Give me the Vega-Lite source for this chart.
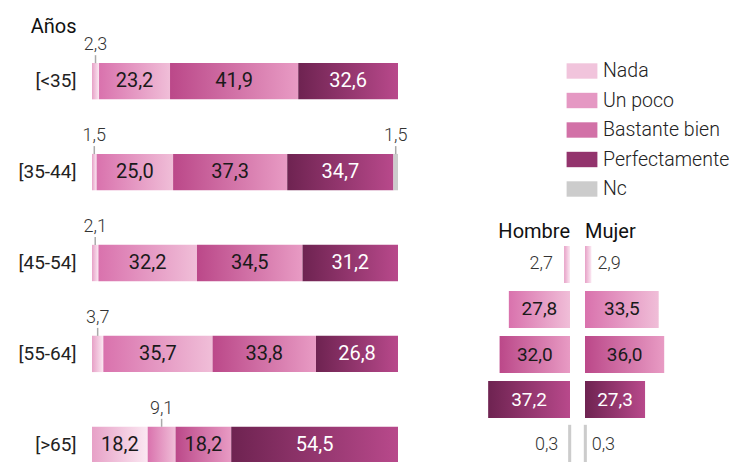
{
  "$schema": "https://vega.github.io/schema/vega-lite/v6.json",
  "padding": {"left": 17, "top": 16, "right": 0, "bottom": 0},
  "config": {
    "locale": {"number": {"decimal": ",", "thousands": ".", "grouping": [3], "currency": ["", " €"]}},
    "view": {"stroke": null},
    "font": "Roboto"
  },
  "datasets": {
    "edad": [
      {"age": "[<35]", "cat": "Nada", "o": 1, "v": 2.3},
      {"age": "[<35]", "cat": "Un poco", "o": 2, "v": 23.2},
      {"age": "[<35]", "cat": "Bastante bien", "o": 3, "v": 41.9},
      {"age": "[<35]", "cat": "Perfectamente", "o": 4, "v": 32.6},
      {"age": "[35-44]", "cat": "Nada", "o": 1, "v": 1.5},
      {"age": "[35-44]", "cat": "Un poco", "o": 2, "v": 25.0},
      {"age": "[35-44]", "cat": "Bastante bien", "o": 3, "v": 37.3},
      {"age": "[35-44]", "cat": "Perfectamente", "o": 4, "v": 34.7},
      {"age": "[35-44]", "cat": "Nc", "o": 5, "v": 1.5},
      {"age": "[45-54]", "cat": "Nada", "o": 1, "v": 2.1},
      {"age": "[45-54]", "cat": "Un poco", "o": 2, "v": 32.2},
      {"age": "[45-54]", "cat": "Bastante bien", "o": 3, "v": 34.5},
      {"age": "[45-54]", "cat": "Perfectamente", "o": 4, "v": 31.2},
      {"age": "[55-64]", "cat": "Nada", "o": 1, "v": 3.7},
      {"age": "[55-64]", "cat": "Un poco", "o": 2, "v": 35.7},
      {"age": "[55-64]", "cat": "Bastante bien", "o": 3, "v": 33.8},
      {"age": "[55-64]", "cat": "Perfectamente", "o": 4, "v": 26.8},
      {"age": "[>65]", "cat": "Nada", "o": 1, "v": 18.2},
      {"age": "[>65]", "cat": "Un poco", "o": 2, "v": 9.1},
      {"age": "[>65]", "cat": "Bastante bien", "o": 3, "v": 18.2},
      {"age": "[>65]", "cat": "Perfectamente", "o": 4, "v": 54.5}
    ],
    "sexo": [
      {"sex": "Hombre", "cat": "Nada", "v": 2.7},
      {"sex": "Hombre", "cat": "Un poco", "v": 27.8},
      {"sex": "Hombre", "cat": "Bastante bien", "v": 32.0},
      {"sex": "Hombre", "cat": "Perfectamente", "v": 37.2},
      {"sex": "Hombre", "cat": "Nc", "v": 0.3},
      {"sex": "Mujer", "cat": "Nada", "v": 2.9},
      {"sex": "Mujer", "cat": "Un poco", "v": 33.5},
      {"sex": "Mujer", "cat": "Bastante bien", "v": 36.0},
      {"sex": "Mujer", "cat": "Perfectamente", "v": 27.3},
      {"sex": "Mujer", "cat": "Nc", "v": 0.3}
    ]
  },
  "spacing": 69,
  "hconcat": [
    {
      "data": {"name": "edad"},
      "width": 306,
      "height": 400,
      "encoding": {
        "y": {
          "field": "age", "type": "nominal",
          "sort": ["[<35]", "[35-44]", "[45-54]", "[55-64]", "[>65]"],
          "scale": {"paddingInner": 0.6, "paddingOuter": 0},
          "title": "Años",
          "axis": {
            "domain": false, "ticks": false, "labelPadding": 16,
            "labelFontSize": 19, "labelColor": "#222", "labelFont": "Roboto",
            "titleAngle": 0, "titleAlign": "right", "titleBaseline": "alphabetic",
            "titleX": -16, "titleY": -31, "titleFontSize": 20, "titleFontWeight": 400, "titleColor": "#111", "titleFont": "Roboto"
          }
        }
      },
      "layer": [
        {
          "mark": {"type": "bar", "opacity": 0},
          "encoding": {
            "x": {"field": "v", "type": "quantitative", "stack": "zero", "scale": {"domain": [0, 100], "nice": false}, "axis": null},
            "order": {"field": "o"},
            "color": {
              "field": "cat", "type": "nominal",
              "scale": {
                "domain": ["Nada", "Un poco", "Bastante bien", "Perfectamente", "Nc"],
                "range": ["#f1c4dc", "#e598c3", "#d271a7", "#93346d", "#cccccc"]
              },
              "legend": {
                "orient": "none", "legendX": 476, "legendY": -6, "title": null,
                "symbolType": "M-1.1,-0.55H1.1V0.55H-1.1Z", "symbolSize": 784, "symbolStrokeWidth": 0, "symbolOpacity": 1,
                "labelFontSize": 19.5, "labelFont": "Roboto", "labelFontWeight": 300, "labelColor": "#222", "labelOffset": 7, "rowPadding": 5.5
              }
            }
          }
        },
        {
          "mark": {"type": "bar", "fill": {"expr": "datum.cat === 'Nada' ? {gradient: 'linear', x1: 0, y1: 0, x2: 1, y2: 0, stops: [{offset: 0, color: '#e7a1c7'}, {offset: 1, color: '#fbe8f2'}]} : datum.cat === 'Un poco' ? {gradient: 'linear', x1: 0, y1: 0, x2: 1, y2: 0, stops: [{offset: 0, color: '#d972ad'}, {offset: 1, color: '#f0bed8'}]} : datum.cat === 'Bastante bien' ? {gradient: 'linear', x1: 0, y1: 0, x2: 1, y2: 0, stops: [{offset: 0, color: '#bb4889'}, {offset: 1, color: '#e89bc4'}]} : datum.cat === 'Perfectamente' ? {gradient: 'linear', x1: 0, y1: 0, x2: 1, y2: 0, stops: [{offset: 0, color: '#6e2351'}, {offset: 1, color: '#b8498b'}]} : '#cccccc'"}},
          "encoding": {
            "x": {"field": "v", "type": "quantitative", "stack": "zero"},
            "detail": {"field": "cat"},
            "order": {"field": "o"}
          }
        },
        {
          "mark": {"type": "text", "fontSize": 20, "baseline": "middle"},
          "encoding": {
            "x": {"field": "v", "type": "quantitative", "stack": "zero", "bandPosition": 0.5},
            "detail": {"field": "cat"},
            "order": {"field": "o"},
            "text": {"condition": {"test": "datum.v < 10", "value": ""}, "field": "v", "type": "quantitative", "format": ".1f"},
            "color": {"condition": {"test": "datum.cat === 'Perfectamente'", "value": "#ffffff"}, "value": "#1a1a1a"}
          }
        },
        {
          "mark": {"type": "text", "fontSize": 18, "fontWeight": 300, "baseline": "alphabetic", "dy": -31, "color": "#333"},
          "encoding": {
            "x": {"field": "v", "type": "quantitative", "stack": "zero", "bandPosition": 0.5},
            "detail": {"field": "cat"},
            "order": {"field": "o"},
            "text": {"condition": {"test": "datum.v >= 10", "value": ""}, "field": "v", "type": "quantitative", "format": ".1f"}
          }
        },
        {
          "mark": {"type": "tick", "size": 8, "thickness": 1.5, "color": "#aaaaaa", "yOffset": -22},
          "encoding": {
            "x": {"field": "v", "type": "quantitative", "stack": "zero", "bandPosition": 0.5},
            "detail": {"field": "cat"},
            "order": {"field": "o"},
            "opacity": {"condition": {"test": "datum.v < 10", "value": 1}, "value": 0}
          }
        }
      ]
    },
    {
      "spacing": 11,
      "hconcat": [
        {
          "data": {"name": "sexo"},
          "transform": [{"filter": "datum.sex === 'Hombre'"}],
          "width": 88,
          "height": 400,
          "encoding": {
            "y": {
              "field": "cat", "type": "nominal",
              "sort": ["Nada", "Un poco", "Bastante bien", "Perfectamente", "Nc"],
              "scale": {"paddingInner": 0.178, "paddingOuter": 0, "range": [183, 400]},
              "axis": null
            }
          },
          "layer": [
            {
              "mark": {"type": "bar", "fill": {"expr": "datum.cat === 'Nada' ? {gradient: 'linear', x1: 0, y1: 0, x2: 1, y2: 0, stops: [{offset: 0, color: '#e7a1c7'}, {offset: 1, color: '#fbe8f2'}]} : datum.cat === 'Un poco' ? {gradient: 'linear', x1: 0, y1: 0, x2: 1, y2: 0, stops: [{offset: 0, color: '#d972ad'}, {offset: 1, color: '#f0bed8'}]} : datum.cat === 'Bastante bien' ? {gradient: 'linear', x1: 0, y1: 0, x2: 1, y2: 0, stops: [{offset: 0, color: '#bb4889'}, {offset: 1, color: '#e89bc4'}]} : datum.cat === 'Perfectamente' ? {gradient: 'linear', x1: 0, y1: 0, x2: 1, y2: 0, stops: [{offset: 0, color: '#6e2351'}, {offset: 1, color: '#b8498b'}]} : '#cccccc'"}},
              "encoding": {
                "x": {"field": "v", "type": "quantitative", "scale": {"domain": [0, 40], "nice": false, "reverse": true}, "axis": null}
              }
            },
            {
              "transform": [{"filter": "datum.cat === 'Nc'"}],
              "mark": {"type": "bar", "fill": "#cccccc", "stroke": "#cccccc", "strokeWidth": 2.4},
              "encoding": {
                "x": {"field": "v", "type": "quantitative"}
              }
            },
            {
              "mark": {"type": "text", "fontSize": 19, "baseline": "middle"},
              "encoding": {
                "x": {"field": "v", "type": "quantitative", "stack": "zero", "bandPosition": 0.5},
                "text": {"condition": {"test": "datum.v < 10", "value": ""}, "field": "v", "type": "quantitative", "format": ".1f"},
                "color": {"condition": {"test": "datum.cat === 'Perfectamente'", "value": "#ffffff"}, "value": "#1a1a1a"}
              }
            },
            {
              "mark": {"type": "text", "fontSize": 18, "fontWeight": 300, "baseline": "middle", "align": "right", "dx": -11, "color": "#333"},
              "encoding": {
                "x": {"field": "v", "type": "quantitative"},
                "text": {"condition": {"test": "datum.v >= 10", "value": ""}, "field": "v", "type": "quantitative", "format": ".1f"}
              }
            },
            {
              "transform": [{"filter": "datum.cat === 'Nada'"}],
              "mark": {"type": "text", "fontSize": 20, "fontWeight": 400, "baseline": "alphabetic", "align": "right", "dy": -26, "color": "#111"},
              "encoding": {
                "x": {"datum": 0},
                "text": {"field": "sex"}
              }
            }
          ]
        },
        {
          "data": {"name": "sexo"},
          "transform": [{"filter": "datum.sex === 'Mujer'"}],
          "width": 88,
          "height": 400,
          "encoding": {
            "y": {
              "field": "cat", "type": "nominal",
              "sort": ["Nada", "Un poco", "Bastante bien", "Perfectamente", "Nc"],
              "scale": {"paddingInner": 0.178, "paddingOuter": 0, "range": [183, 400]},
              "axis": null
            }
          },
          "layer": [
            {
              "mark": {"type": "bar", "fill": {"expr": "datum.cat === 'Nada' ? {gradient: 'linear', x1: 0, y1: 0, x2: 1, y2: 0, stops: [{offset: 0, color: '#e7a1c7'}, {offset: 1, color: '#fbe8f2'}]} : datum.cat === 'Un poco' ? {gradient: 'linear', x1: 0, y1: 0, x2: 1, y2: 0, stops: [{offset: 0, color: '#d972ad'}, {offset: 1, color: '#f0bed8'}]} : datum.cat === 'Bastante bien' ? {gradient: 'linear', x1: 0, y1: 0, x2: 1, y2: 0, stops: [{offset: 0, color: '#bb4889'}, {offset: 1, color: '#e89bc4'}]} : datum.cat === 'Perfectamente' ? {gradient: 'linear', x1: 0, y1: 0, x2: 1, y2: 0, stops: [{offset: 0, color: '#6e2351'}, {offset: 1, color: '#b8498b'}]} : '#cccccc'"}},
              "encoding": {
                "x": {"field": "v", "type": "quantitative", "scale": {"domain": [0, 40], "nice": false}, "axis": null}
              }
            },
            {
              "transform": [{"filter": "datum.cat === 'Nc'"}],
              "mark": {"type": "bar", "fill": "#cccccc", "stroke": "#cccccc", "strokeWidth": 2.4},
              "encoding": {
                "x": {"field": "v", "type": "quantitative"}
              }
            },
            {
              "mark": {"type": "text", "fontSize": 19, "baseline": "middle"},
              "encoding": {
                "x": {"field": "v", "type": "quantitative", "stack": "zero", "bandPosition": 0.5},
                "text": {"condition": {"test": "datum.v < 10", "value": ""}, "field": "v", "type": "quantitative", "format": ".1f"},
                "color": {"condition": {"test": "datum.cat === 'Perfectamente'", "value": "#ffffff"}, "value": "#1a1a1a"}
              }
            },
            {
              "mark": {"type": "text", "fontSize": 18, "fontWeight": 300, "baseline": "middle", "align": "left", "dx": 6, "color": "#333"},
              "encoding": {
                "x": {"field": "v", "type": "quantitative"},
                "text": {"condition": {"test": "datum.v >= 10", "value": ""}, "field": "v", "type": "quantitative", "format": ".1f"}
              }
            },
            {
              "transform": [{"filter": "datum.cat === 'Nada'"}],
              "mark": {"type": "text", "fontSize": 20, "fontWeight": 400, "baseline": "alphabetic", "align": "left", "dy": -26, "color": "#111"},
              "encoding": {
                "x": {"datum": 0},
                "text": {"field": "sex"}
              }
            }
          ]
        }
      ]
    }
  ]
}
